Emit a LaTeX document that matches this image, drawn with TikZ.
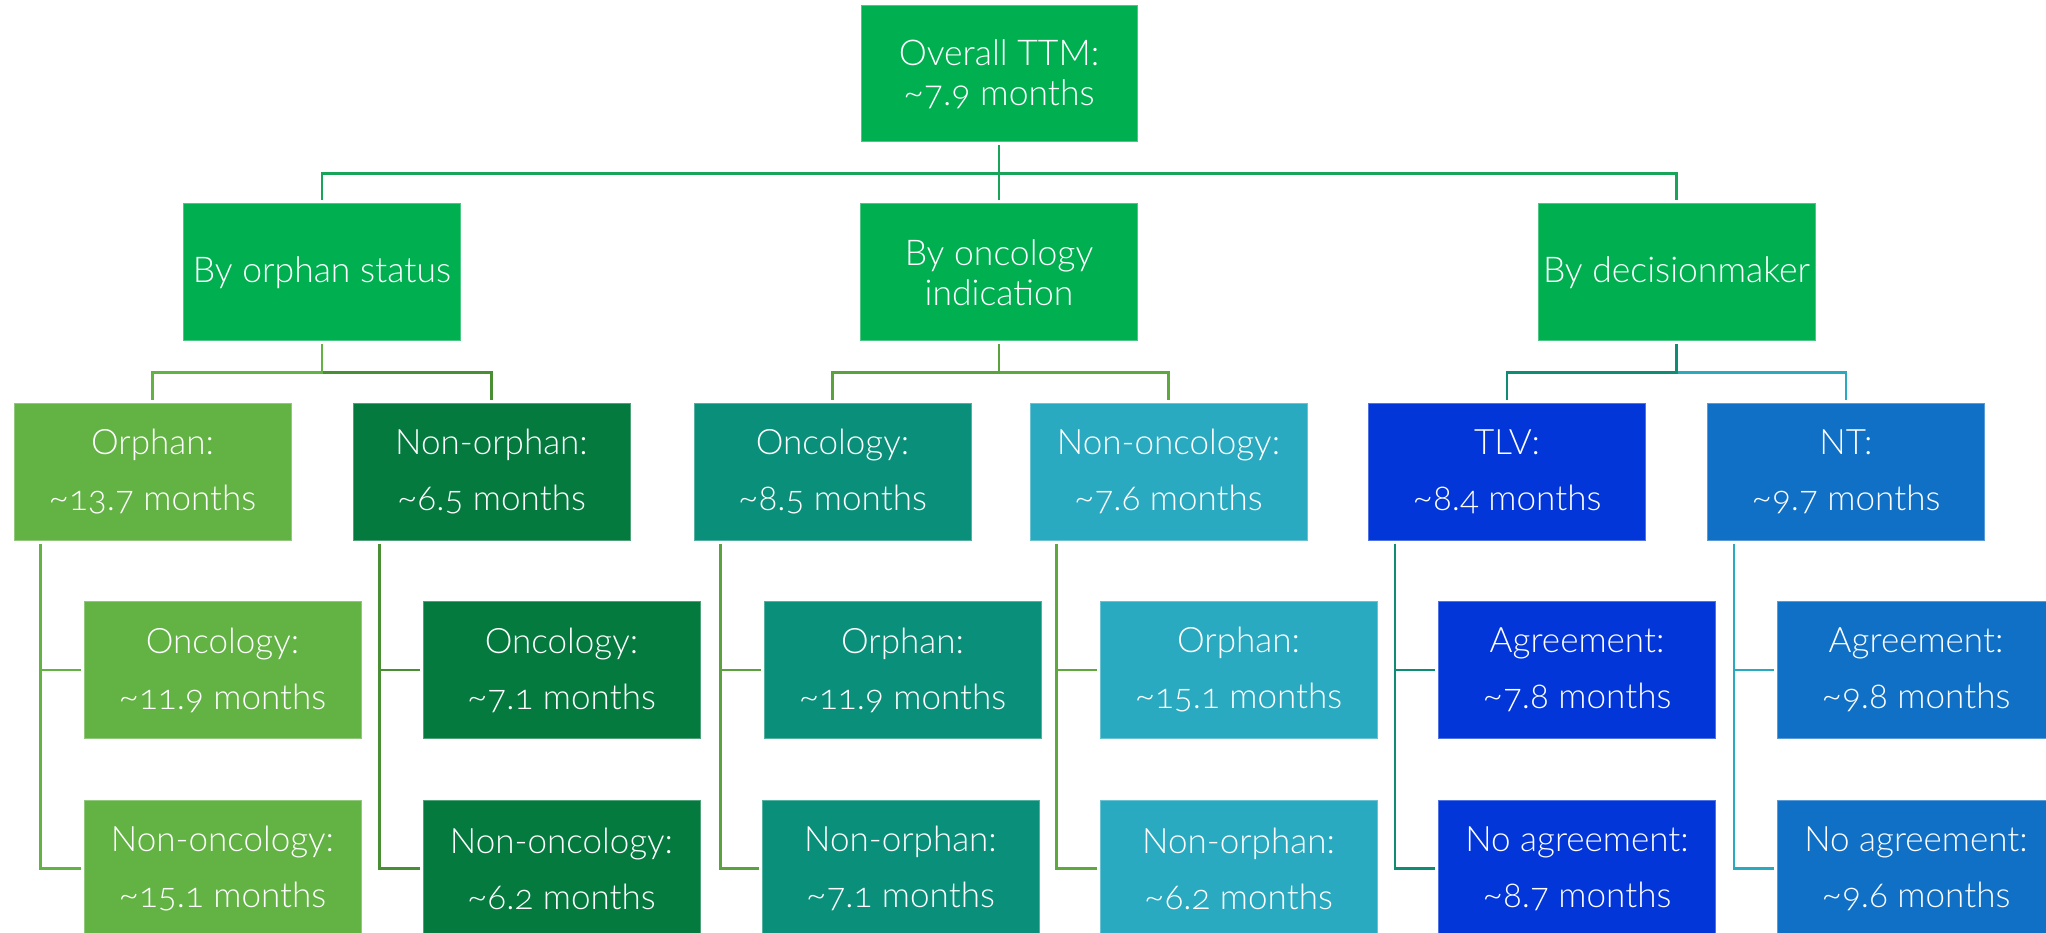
\documentclass[tikz,border=0pt]{standalone}
\usepackage{fontspec}
\setmainfont{Lato}[UprightFont=* Light, Numbers=OldStyle]
\definecolor{cMain}{RGB}{0,176,80}
\definecolor{cOrph}{RGB}{98,178,68}
\definecolor{cNonOrph}{RGB}{4,122,62}
\definecolor{cOnc}{RGB}{10,144,122}
\definecolor{cNonOnc}{RGB}{42,170,192}
\definecolor{cTLV}{RGB}{3,54,216}
\definecolor{cNT}{RGB}{16,112,198}
\definecolor{lTop}{RGB}{24,165,90}
\definecolor{lOrph}{RGB}{98,178,68}
\definecolor{lNonOrph}{RGB}{74,142,52}
\definecolor{lOnc}{RGB}{90,162,62}
\definecolor{lNonOnc}{RGB}{94,168,62}
\definecolor{lTLV}{RGB}{14,140,116}
\definecolor{lNT}{RGB}{42,170,192}
\tikzset{
  box/.style={fill=#1, draw=#1!70!white, line width=1pt, minimum width=277pt,
    minimum height=137pt, inner sep=0pt, text=white, align=center},
  tight/.style={font=\fontsize{35.5}{40}\selectfont},
  loose/.style={font=\fontsize{35}{56}\selectfont},
  conn/.style={line width=2.2pt, shorten <=3pt, shorten >=3pt},
}
\begin{document}
\begin{tikzpicture}[x=1pt,y=-1pt]
\useasboundingbox (0,0) rectangle (2046,933);
% top
\node[box=cMain, tight, minimum width=276pt, minimum height=136pt] (top) at (999,74) {Overall TTM:\\\textasciitilde7.9 months};
% level 2
\node[box=cMain, tight] (byorph) at (322,272.5) {By orphan status};
\node[box=cMain, tight] (byonc) at (999,272.5) {By oncology\\indication};
\node[box=cMain, tight] (bydec) at (1676.5,272.5) {By decisionmaker};
% level 3
\node[box=cOrph, loose] (orph) at (152.5,471.5) {Orphan:\\\textasciitilde13.7 months};
\node[box=cNonOrph, loose] (nonorph) at (491.5,471.5) {Non-orphan:\\\textasciitilde6.5 months};
\node[box=cOnc, loose] (onc) at (832.5,471.5) {Oncology:\\\textasciitilde8.5 months};
\node[box=cNonOnc, loose] (nononc) at (1168.5,471.5) {Non-oncology:\\\textasciitilde7.6 months};
\node[box=cTLV, loose] (tlv) at (1507,471.5) {TLV:\\\textasciitilde8.4 months};
\node[box=cNT, loose] (nt) at (1846,471.5) {NT:\\\textasciitilde9.7 months};
% level 4
\node[box=cOrph, loose] (orphA) at (222.5,670) {Oncology:\\\textasciitilde11.9 months};
\node[box=cOrph, loose] (orphB) at (222.5,868.5) {Non-oncology:\\\textasciitilde15.1 months};
\node[box=cNonOrph, loose] (nonorphA) at (561.5,670) {Oncology:\\\textasciitilde7.1 months};
\node[box=cNonOrph, loose] (nonorphB) at (561.5,868.5) {Non-oncology:\\\textasciitilde6.2 months};
\node[box=cOnc, loose] (oncA) at (902.5,670) {Orphan:\\\textasciitilde11.9 months};
\node[box=cOnc, loose] (oncB) at (900.5,868.5) {Non-orphan:\\\textasciitilde7.1 months};
\node[box=cNonOnc, loose] (nononcA) at (1238.5,670) {Orphan:\\\textasciitilde15.1 months};
\node[box=cNonOnc, loose] (nononcB) at (1238.5,868.5) {Non-orphan:\\\textasciitilde6.2 months};
\node[box=cTLV, loose] (tlvA) at (1577,670) {Agreement:\\\textasciitilde7.8 months};
\node[box=cTLV, loose] (tlvB) at (1577,868.5) {No agreement:\\\textasciitilde8.7 months};
\node[box=cNT, loose] (ntA) at (1916,670) {Agreement:\\\textasciitilde9.8 months};
\node[box=cNT, loose] (ntB) at (1916,868.5) {No agreement:\\\textasciitilde9.6 months};
% top connectors
\draw[conn, lTop] (top.south) -- ++(0,31) -| (byorph.north);
\draw[conn, lTop] (top.south) -- ++(0,31) -| (bydec.north);
\draw[conn, lTop] (top.south) -- (byonc.north);
% level 2 -> 3
\draw[conn, lNonOrph] (byorph.south) -- ++(0,31) -| (nonorph.north);
\draw[conn, lOrph] (byorph.south) -- ++(0,31) -| (orph.north);
\draw[conn, lNonOnc] (byonc.south) -- ++(0,31) -| (nononc.north);
\draw[conn, lOnc] (byonc.south) -- ++(0,31) -| (onc.north);
\draw[conn, lNT] (bydec.south) -- ++(0,31) -| (nt.north);
\draw[conn, lTLV] (bydec.south) -- ++(0,31) -| (tlv.north);
% level 3 -> 4
\foreach \p/\c in {orph/lOrph, nonorph/lNonOrph, onc/lOnc, nononc/lNonOnc, tlv/lTLV, nt/lNT}{
  \draw[conn, \c] ([xshift=27pt]\p.south west) |- (\p A.west);
  \draw[conn, \c] ([xshift=27pt]\p.south west) |- (\p B.west);
}
\end{tikzpicture}
\end{document}
